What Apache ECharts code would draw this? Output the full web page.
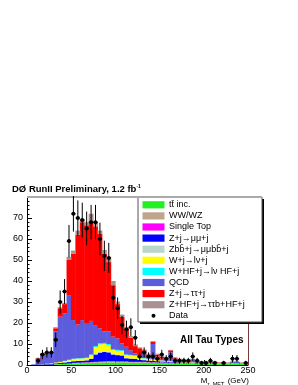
<!DOCTYPE html>
<html><head><meta charset="utf-8">
<script src="https://cdn.jsdelivr.net/npm/echarts@6/dist/echarts.min.js"></script>
<style>html,body{margin:0;padding:0;background:#fff}#c{width:298px;height:385px}</style>
</head><body><div id="c"></div>
<script>
// bin lower edges (GeV), bin width 5
const binLow = [0,5,10,15,20,25,30,35,40,45,50,55,60,65,70,75,80,85,90,95,100,105,110,115,120,125,130,135,140,145,150,155,160,165,170,175,180,185,190,195,200,205,210,215,220,225,230,235,240,245];
const binWidth = 5;
const xTicks = [0,50,100,150,200,250];
const yTicks = [0,10,20,30,40,50,60,70];

// stacked backgrounds, bottom to top
const ttbar = [0,0,0,0,0.1,0.2,0.3,0.4,0.5,0.6, 0.7,0.8,0.9,1.0,1.0,1.1,1.1,1.2,1.2,1.2, 1.2,1.2,1.2,1.1,1.1,1.1,1.1,1.0,1.0,1.0, 1.0,0.9,0.9,0.9,0.9,0.8,0.8,0.8,0.8,0.7, 0.7,0.7,0.7,0.6,0.6,0.6,0.6,0.5,0.5,0.5];
const wwwz = [0,0,0,0,0,0,0.1,0.1,0.1,0.1, 0.2,0.2,0.2,0.2,0.3,0.3,0.4,0.4,0.5,0.5, 0.4,0.4,0.4,0.3,0.3,0.3,0.3,0.3,0.2,0.2, 0.2,0.2,0.2,0.2,0.1,0.1,0.1,0.1,0.1,0.1, 0.1,0.1,0.1,0.1,0.1,0.1,0.1,0.1,0.1,0.1];
const singleTop = [0,0,0,0,0,0,0,0,0,0, 0.1,0.1,0.1,0.1,0.1,0.1,0.1,0.1,0.1,0.1, 0.1,0.1,0.1,0.1,0.1,0.1,0.1,0.1,0.1,0.1, 0.1,0.1,0.1,0.1,0.1,0.1,0.1,0.1,0,0, 0,0,0,0,0,0,0,0,0,0];
const zmumu = [0,0,0.1,0.2,0.3,0.3,0.4,0.5,0.6,0.7, 0.8,0.8,0.8,0.9,1.5,3.5,4.3,4.5,4.2,3.2, 3.0,2.8,1.5,1.5,1.4,0.9,0.8,0.7,0.6,0.5, 0.4,0.4,0.4,0.3,0.2,0.2,0.2,0.1,0.1,0.1, 0.1,0.1,0.1,0.1,0.1,0.1,0.1,0.1,0.1,0.1];
const zbb = [0,0,0,0,0,0,0,0,0.1,0.1, 0.1,0.1,0.1,0.1,0.2,0.2,0.3,0.3,0.3,0.2, 0.2,0.2,0.1,0.1,0.1,0.1,0.1,0.1,0.1,0.1, 0,0,0,0,0,0,0,0,0,0, 0,0,0,0,0,0,0,0,0,0];
const wjets = [0,0,0,0.1,0.2,0.3,0.4,0.5,0.6,0.8, 0.9,1.0,1.0,1.0,1.6,3.3,3.6,3.5,3.2,1.9, 1.9,1.9,1.4,1.4,1.3,0.8,0.7,0.6,0.6,0.5, 0.4,0.3,0.3,0.2,0.2,0.2,0.2,0.2,0.2,0.2, 0.1,0.1,0.1,0.1,0.1,0.1,0.1,0.1,0.1,0.1];
const whf = [0,0,0,0,0,0,0,0,0.1,0.2, 0.2,0.2,0.2,0.2,0.3,0.5,0.5,0.5,0.5,0.4, 0.4,0.4,0.3,0.3,0.3,0.2,0.2,0.2,0.2,0.1, 0.1,0.1,0.1,0.1,0.1,0.1,0,0,0,0, 0,0,0,0,0,0,0,0,0,0];
const qcd = [0,0.3,2.3,4.7,4.9,4.7,14.8,21.5,22.5,30.5, 18.4,16.1,18.1,16.5,16,10,7.2,5.5,6,6, 5.5,3.3,3.7,2.2,0.9,1,2.7,1,7.2,1.5, 0.8,1,4,1.2,0.9,0.5,0.6,1.2,0.3,0.4, 0.5,0.2,0.5,0.1,0.1,0.1,0.6,0.7,0.2,0.2];
const ztautau = [0,0,0.8,0.5,0.5,0.5,1.5,4,4.5,17, 31.6,42.7,46.6,46.5,47.5,47,45,37,33,24.5, 16.3,12.7,8.3,6,3.5,3.5,1,1,1,1, 1,0.5,1,0.5,0.3,0.3,0.2,0.3,0.3,0.2, 0.1,0.2,0.1,0.2,0.1,0.1,0.1,0.1,0.1,0.1];
const zhf = [0,0,0.2,0.2,0.2,0.2,0.5,0.5,0.5,1.5, 1.5,2,1.5,1.5,3.5,2,1.5,1.8,2.5,2, 1.2,1,0.8,0.8,0.8,0.4,0.4,0.4,0.4,0.4, 0.4,0.2,0.2,0.2,0.2,0.2,0.2,0.2,0.2,0.2, 0.2,0.2,0.2,0.2,0.2,0.2,0.2,0.2,0.2,0.2];

// observed events
const observed = [null,null,2,5,6,6,12,30,35,59, 72,70,69,65,68,68,60,52,51,32, 27,19,17,18,13,4,6,4,4,3, 5,3,4,2,2,2,2,4,2,1, 1,2,1,null,1,null,3,3,null,1];

const stackNames = ['tt̄ inc.','WW/WZ','Single Top','Z+j→μμ+j','Zbb̄+j→μμbb̄+j','W+j→lν+j','W+HF+j→lν HF+j','QCD','Z+j→ττ+j','Z+HF+j→ττb+HF+j'];
const dataName = 'Data';
const stackValues = [ttbar, wwwz, singleTop, zmumu, zbb, wjets, whf, qcd, ztautau, zhf];
const stackColors = ['#22f022','#bea58c','#ff00ff','#0000ff','#b8d6cc','#ffff00','#00ffff','#5c5cdc','#ff0000','#aa9090'];

const FONT = '"Liberation Sans", Arial, sans-serif';
const chart = echarts.init(document.getElementById('c'), null, {renderer:'canvas'});

// cumulative stacking (bottom to top)
const base = binLow.map(() => 0);
const series = stackValues.map((vals, k) => {
  const items = binLow.map((x, i) => {
    const b = base[i];
    base[i] = b + vals[i];
    return [x, x + binWidth, b, base[i]];
  });
  return {
    name: stackNames[k], type: 'custom', z: 2 + k * 0.01, silent: true, animation: false,
    itemStyle: {color: stackColors[k]},
    encode: {x: [0, 1], y: [2, 3]},
    data: items,
    renderItem: function (params, api) {
      const b = api.value(2), t = api.value(3);
      if (t - b <= 0) return null;
      const p0 = api.coord([api.value(0), b]);
      const p1 = api.coord([api.value(1), t]);
      return {type: 'rect',
        shape: {x: p0[0] - 0.25, y: p1[1], width: p1[0] - p0[0] + 0.5, height: p0[1] - p1[1]},
        style: {fill: stackColors[k]}};
    }
  };
});

const obsItems = [];
binLow.forEach((x, i) => {
  if (observed[i] !== null) obsItems.push([x, x + binWidth, observed[i], Math.sqrt(observed[i])]);
});

series.push({
  name: dataName, type: 'custom', z: 10, silent: true, animation: false,
  encode: {x: [0, 1], y: 2},
  data: obsItems,
  renderItem: function (params, api) {
    const lo = api.value(0), hi = api.value(1), v = api.value(2), e = api.value(3);
    const mid = (lo + hi) / 2;
    const c = api.coord([mid, v]);
    const pl = api.coord([lo, v]), ph = api.coord([hi, v]);
    const pt = api.coord([mid, v + e]), pb = api.coord([mid, Math.max(v - e, 0)]);
    return {type: 'group', children: [
      {type: 'line', shape: {x1: c[0], y1: pt[1], x2: c[0], y2: pb[1]}, style: {stroke: '#000', lineWidth: 1}},
      {type: 'line', shape: {x1: pl[0], y1: c[1], x2: ph[0], y2: c[1]}, style: {stroke: '#000', lineWidth: 1}},
      {type: 'circle', shape: {cx: c[0], cy: c[1], r: 2}, style: {fill: '#000'}}
    ]};
  },
  markLine: {
    silent: true, symbol: 'none', animation: false,
    label: {show: false},
    lineStyle: {color: '#7c3a3a', width: 1, type: 'solid'},
    data: [{xAxis: 250}]
  }
});

// legend drawn as graphic (ROOT-style box with shadow)
const lgX = 138, lgY = 197, lgW = 124, lgH = 125, row0 = 204.8, rowH = 11.1;
const graphic = [
  {type: 'rect', z: 8, shape: {x: lgX + 2, y: lgY + 2, width: lgW, height: lgH}, style: {fill: '#000'}},
  {type: 'rect', z: 8, shape: {x: lgX, y: lgY, width: lgW, height: lgH}, style: {fill: '#fff', stroke: '#555', lineWidth: 1}},
  {type: 'line', z: 9, shape: {x1: 27, y1: 197, x2: lgX + lgW, y2: 197}, style: {stroke: '#aaa', lineWidth: 2}}
];
stackNames.forEach((nm, k) => {
  const cy = row0 + k * rowH;
  graphic.push({type: 'rect', z: 9, shape: {x: 142.5, y: cy - 3.6, width: 22, height: 7.2}, style: {fill: stackColors[k]}});
  graphic.push({type: 'text', z: 9, x: 169, y: cy, style: {text: nm, font: '9px ' + FONT, fill: '#000', verticalAlign: 'middle', align: 'left'}});
});
{
  const cy = row0 + stackNames.length * rowH;
  graphic.push({type: 'circle', z: 9, shape: {cx: 153.5, cy: cy, r: 2}, style: {fill: '#000'}});
  graphic.push({type: 'text', z: 9, x: 169, y: cy, style: {text: dataName, font: '9px ' + FONT, fill: '#000', verticalAlign: 'middle', align: 'left'}});
}
graphic.push({type: 'text', z: 9, x: 180, y: 340, style: {text: 'All Tau Types', font: 'bold 10px ' + FONT, fill: '#000', verticalAlign: 'middle', align: 'left'}});
graphic.push({type: 'text', z: 9, x: 249, y: 373, style: {
  text: '{m|M}{s|τ, MET} {m|(GeV)}', align: 'right', verticalAlign: 'top',
  rich: {m: {font: '8px ' + FONT, fill: '#000', verticalAlign: 'bottom'},
         s: {font: '5.5px ' + FONT, fill: '#000', verticalAlign: 'bottom', padding: [0, 0, -2, 0]}}}});

chart.setOption({
  animation: false,
  backgroundColor: '#fff',
  title: {
    text: 'DØ RunII Preliminary, 1.2 fb{s|-1}',
    left: 7, top: 179,
    textStyle: {fontFamily: FONT, fontWeight: 'bold', fontSize: 9.5, color: '#000',
      rich: {s: {fontSize: 5, fontWeight: 'bold', fontFamily: FONT, verticalAlign: 'top', color: '#000'}}}
  },
  grid: {left: 27, top: 197, width: 221, height: 168, containLabel: false, outerBoundsMode: 'none'},
  xAxis: {
    type: 'value', min: 0, max: 250, interval: 50,
    splitLine: {show: false},
    axisLine: {lineStyle: {color: '#000', width: 1}},
    axisTick: {inside: true, length: 5, lineStyle: {color: '#000'}},
    minorTick: {show: true, splitNumber: 5, length: 2.5, lineStyle: {color: '#000'}},
    axisLabel: {fontFamily: FONT, fontSize: 9, color: '#000', margin: 1,
      formatter: v => xTicks.indexOf(v) >= 0 ? String(v) : ''}
  },
  yAxis: {
    type: 'value', min: 0, max: 80, interval: 10,
    splitLine: {show: false},
    axisLine: {show: true, lineStyle: {color: '#000', width: 1}},
    axisTick: {show: true, inside: true, length: 5, lineStyle: {color: '#000'}},
    minorTick: {show: true, splitNumber: 5, length: 2.5, lineStyle: {color: '#000'}},
    axisLabel: {fontFamily: FONT, fontSize: 9, color: '#000', margin: 4,
      formatter: v => yTicks.indexOf(v) >= 0 ? String(v) : ''}
  },
  graphic: graphic,
  series: series
});
</script>
</body></html>
